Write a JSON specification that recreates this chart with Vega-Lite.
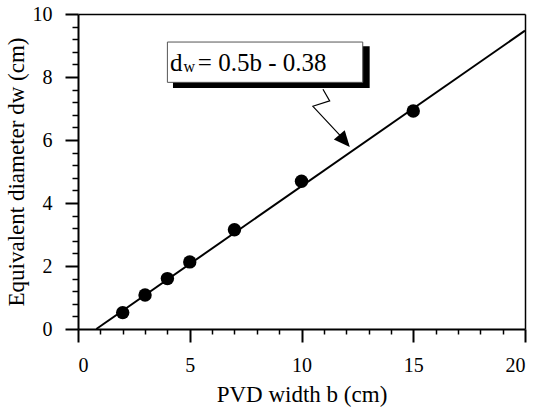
{
  "$schema": "https://vega.github.io/schema/vega-lite/v6.json",
  "width": 447,
  "height": 315,
  "autosize": {"type": "none"},
  "padding": {"left": 78, "top": 14, "right": 15, "bottom": 79},
  "config": {
    "view": {"stroke": null}
  },
  "datasets": {
    "fit": [{"b": 0.82, "dw": 0}, {"b": 20, "dw": 9.47}],
    "obs": [
      {"b": 2, "dw": 0.52}, {"b": 3, "dw": 1.08}, {"b": 4, "dw": 1.6}, {"b": 5, "dw": 2.13},
      {"b": 7, "dw": 3.15}, {"b": 10, "dw": 4.69}, {"b": 15, "dw": 6.92}
    ],
    "shadow": [{"x1": 4.25, "x2": 13.05, "y1": 7.65, "y2": 8.98}],
    "box": [{"x1": 4.0, "x2": 12.74, "y1": 7.83, "y2": 9.11}],
    "zig": [{"b": 10.96, "dw": 7.61, "o": 1}, {"b": 11.26, "dw": 7.24, "o": 2}, {"b": 10.51, "dw": 7.07, "o": 3}, {"b": 12.1, "dw": 5.86, "o": 4}],
    "tip": [{"b": 12.16, "dw": 5.78}],
    "lab": [{"b": 4.12, "dw": 8.18, "t": "d"}, {"b": 5.36, "dw": 8.18, "t": "= 0.5b - 0.38"}],
    "sub": [{"b": 4.72, "dw": 8.16, "t": "w"}]
  },
  "layer": [
    {
      "data": {"name": "fit"},
      "mark": {"type": "line", "color": "black", "strokeWidth": 2},
      "encoding": {
        "x": {"field": "b", "type": "quantitative", "scale": {"domain": [0, 20], "nice": false},
              "axis": {"values": [0, 5, 10, 15, 20], "grid": false, "domainColor": "black", "domainWidth": 2, "ticks": true, "tickColor": "black", "tickWidth": 2, "tickSize": 13,
                       "labelPadding": 13, "labelFont": "Times New Roman", "labelFontSize": 20, "labelColor": "black",
                       "title": "PVD width b (cm)", "titlePadding": 8, "titleFont": "Times New Roman", "titleFontSize": 23, "titleFontWeight": "normal", "titleColor": "black"}},
        "y": {"field": "dw", "type": "quantitative", "scale": {"domain": [0, 10], "nice": false},
              "axis": {"values": [0, 2, 4, 6, 8, 10], "grid": false, "domainColor": "black", "domainWidth": 2, "ticks": true, "tickColor": "black", "tickWidth": 2, "tickSize": 13,
                       "labelPadding": 13, "labelFont": "Times New Roman", "labelFontSize": 20, "labelColor": "black",
                       "title": "Equivalent diameter dw (cm)", "titlePadding": 4, "titleFont": "Times New Roman", "titleFontSize": 23, "titleFontWeight": "normal", "titleColor": "black"}}
      }
    },
    {
      "data": {"name": "obs"},
      "mark": {"type": "circle", "color": "black", "opacity": 1, "size": 180},
      "encoding": {
        "x": {"field": "b", "type": "quantitative",
              "axis": {"orient": "bottom", "values": [1, 2, 3, 4, 6, 7, 8, 9, 11, 12, 13, 14, 16, 17, 18, 19], "grid": false, "ticks": true, "tickColor": "black", "tickWidth": 1.5, "tickSize": 5, "labels": false, "domain": false, "title": null}},
        "y": {"field": "dw", "type": "quantitative",
              "axis": {"orient": "left", "values": [0.4, 0.8, 1.2, 1.6, 2.4, 2.8, 3.2, 3.6, 4.4, 4.8, 5.2, 5.6, 6.4, 6.8, 7.2, 7.6, 8.4, 8.8, 9.2, 9.6], "grid": false, "ticks": true, "tickColor": "black", "tickWidth": 1.5, "tickSize": 6, "labels": false, "domain": false, "title": null}}
      }
    },
    {
      "data": {"name": "shadow"},
      "mark": {"type": "rect", "color": "black"},
      "encoding": {
        "x": {"field": "x1", "type": "quantitative", "axis": {"orient": "top", "grid": false, "ticks": false, "labels": false, "domain": true, "domainColor": "black", "domainWidth": 1.5, "title": null}},
        "x2": {"field": "x2"},
        "y": {"field": "y1", "type": "quantitative", "axis": {"orient": "right", "grid": false, "ticks": false, "labels": false, "domain": true, "domainColor": "black", "domainWidth": 1.5, "title": null}},
        "y2": {"field": "y2"}
      }
    },
    {
      "data": {"name": "box"},
      "mark": {"type": "rect", "fill": "white", "stroke": "#555555", "strokeWidth": 1},
      "encoding": {
        "x": {"field": "x1", "type": "quantitative", "axis": null}, "x2": {"field": "x2"},
        "y": {"field": "y1", "type": "quantitative", "axis": null}, "y2": {"field": "y2"}
      }
    },
    {
      "data": {"name": "lab"},
      "mark": {"type": "text", "align": "left", "baseline": "alphabetic", "fontSize": 25, "font": "Times New Roman", "color": "black"},
      "encoding": {
        "x": {"field": "b", "type": "quantitative", "axis": null},
        "y": {"field": "dw", "type": "quantitative", "axis": null},
        "text": {"field": "t"}
      }
    },
    {
      "data": {"name": "sub"},
      "mark": {"type": "text", "align": "left", "baseline": "alphabetic", "fontSize": 16, "font": "Times New Roman", "color": "black"},
      "encoding": {
        "x": {"field": "b", "type": "quantitative", "axis": null},
        "y": {"field": "dw", "type": "quantitative", "axis": null},
        "text": {"field": "t"}
      }
    },
    {
      "data": {"name": "zig"},
      "mark": {"type": "line", "color": "black", "strokeWidth": 1.2},
      "encoding": {
        "x": {"field": "b", "type": "quantitative", "axis": null},
        "y": {"field": "dw", "type": "quantitative", "axis": null},
        "order": {"field": "o"}
      }
    },
    {
      "data": {"name": "tip"},
      "mark": {"type": "point", "shape": "M0,0L-0.9,-2L0.9,-2Z", "filled": true, "color": "black", "opacity": 1, "size": 256, "angle": 319},
      "encoding": {
        "x": {"field": "b", "type": "quantitative", "axis": null},
        "y": {"field": "dw", "type": "quantitative", "axis": null}
      }
    }
  ],
  "resolve": {"axis": {"x": "independent", "y": "independent"}}
}
